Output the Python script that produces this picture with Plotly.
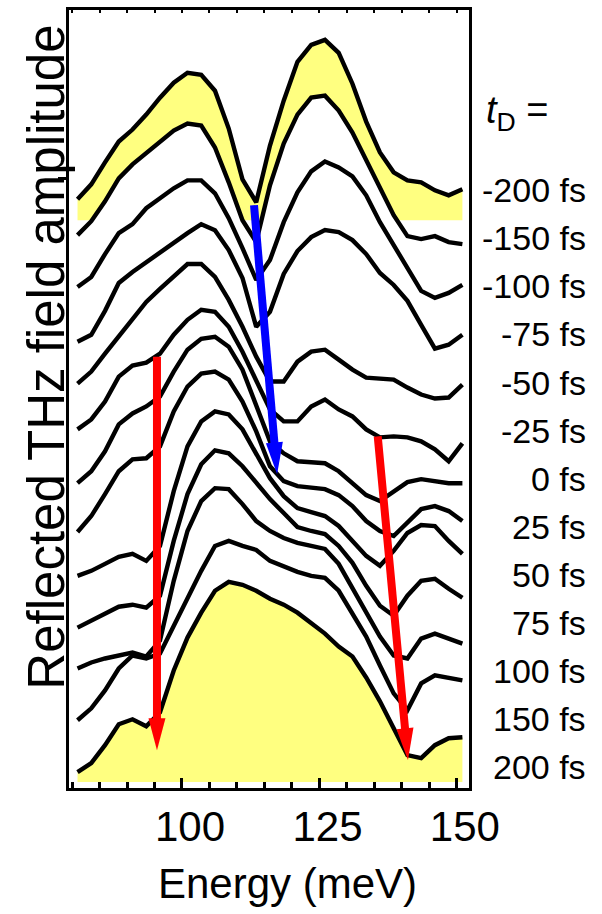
import plotly.graph_objects as go

# Photon energy grid (meV)
energies = [81.0, 83.5, 86.0, 88.5, 91.0, 93.5, 96.0, 98.5, 101.0, 103.5,
            106.0, 108.5, 111.0, 113.5, 116.0, 118.5, 121.0, 123.5, 126.0, 128.5,
            131.0, 133.5, 136.0, 138.5, 141.0, 143.5, 146.0, 148.5, 151.0]

# Pump-probe delays, top trace first
delays = ["-200 fs", "-150 fs", "-100 fs", "-75 fs", "-50 fs", "-25 fs", "0 fs",
          "25 fs", "50 fs", "75 fs", "100 fs", "150 fs", "200 fs"]

# Reflected THz field amplitude (arb. units) for each delay
amp_m200 = [21, 36, 58, 79, 91, 106, 123, 138, 148, 146, 130, 92, 41, 18, 75, 120, 159, 176, 181, 168, 137, 99, 68, 48, 40, 38, 30, 25, 31]
amp_m150 = [32, 46, 66, 89, 103, 114, 126, 137, 144, 142, 120, 85, 47, 25, 82, 124, 153, 170, 172, 157, 135, 107, 78, 52, 31, 28, 31, 25, 23]
amp_m100 = [27, 37, 60, 81, 90, 106, 116, 126, 134, 134, 121, 96, 66, 34, 54, 92, 122, 143, 153, 147, 138, 119, 92, 69, 48, 23, 16, 21, 29]
amp_m75 = [19, 26, 50, 78, 89, 99, 108, 118, 128, 137, 131, 111, 83, 34, 49, 87, 110, 124, 131, 129, 121, 107, 88, 76, 60, 36, 12, 16, 26]
amp_m50 = [24, 36, 54, 71, 88, 106, 119, 131, 144, 144, 131, 108, 81, 51, 26, 26, 46, 56, 58, 48, 38, 30, 29, 28, 20, 13, 9, 10, 23]
amp_m25 = [25, 35, 53, 78, 89, 92, 101, 120, 135, 145, 143, 128, 103, 73, 45, 33, 33, 48, 55, 45, 38, 25, 17, 18, 17, 13, 5, -7, 11]
amp_0 = [18, 30, 50, 77, 88, 95, 105, 130, 152, 163, 165, 155, 132, 95, 60, 48, 40, 39, 38, 30, 18, 6, 0, 10, 19, 22, 20, 18, 18]
amp_25 = [16, 32, 54, 77, 89, 90, 102, 137, 162, 175, 177, 169, 147, 117, 82, 67, 62, 60, 59, 53, 42, 27, 17, 12, 25, 39, 42, 37, 27]
amp_50 = [19, 24, 31, 38, 41, 34, 49, 104, 149, 174, 184, 181, 166, 142, 117, 99, 87, 83, 79, 69, 54, 39, 29, 44, 62, 70, 69, 54, 41]
amp_75 = [14, 21, 29, 35, 37, 34, 46, 101, 148, 178, 192, 189, 176, 159, 143, 129, 115, 111, 108, 96, 79, 56, 36, 26, 46, 61, 63, 53, 44]
amp_100 = [20, 26, 30, 33, 36, 32, 48, 108, 158, 188, 201, 200, 185, 168, 158, 151, 146, 143, 140, 125, 101, 75, 52, 33, 30, 50, 55, 50, 45]
amp_150 = [15, 27, 45, 67, 80, 77, 82, 110, 138, 165, 190, 195, 190, 186, 175, 169, 164, 160, 158, 145, 123, 99, 70, 42, 25, 52, 60, 57, 55]
amp_200 = [10, 19, 37, 58, 63, 56, 70, 112, 145, 170, 192, 201, 198, 192, 184, 178, 170, 159, 149, 136, 126, 105, 81, 54, 27, 24, 37, 44, 45]

spectra = [amp_m200, amp_m150, amp_m100, amp_m75, amp_m50, amp_m25, amp_0,
           amp_25, amp_50, amp_75, amp_100, amp_150, amp_200]

OFFSET_STEP = 47          # vertical spacing between stacked traces
X_RANGE = [79.45, 152.2]
Y_RANGE = [-6, 775]
YELLOW = "#ffff80"
FONT = "Liberation Sans, Arial, sans-serif"

# figure geometry
W, H = 602, 914
M_L, M_R, M_T, M_B = 69, 133, 7, 126
PW, PH = W - M_L - M_R, H - M_T - M_B
px_per_x = PW / (X_RANGE[1] - X_RANGE[0])
px_per_y = PH / (Y_RANGE[1] - Y_RANGE[0])

fig = go.Figure()
n = len(spectra)
for i, amp in enumerate(spectra):
    base = (n - 1 - i) * OFFSET_STEP
    ys = [base + a for a in amp]
    fill = YELLOW if i in (0, n - 1) else "white"
    # area between trace and its own baseline (hides lower-lying parts)
    fig.add_trace(go.Scatter(
        x=energies + energies[::-1],
        y=ys + [base] * len(energies),
        mode="lines", fill="toself", fillcolor=fill,
        line=dict(width=0, color=fill), hoverinfo="skip"))
    fig.add_trace(go.Scatter(
        x=energies, y=ys, mode="lines",
        line=dict(color="black", width=4.4, shape="linear"),
        name=delays[i]))

# invisible trace that activates the top tick axis
fig.add_trace(go.Scatter(x=X_RANGE, y=[None, None], xaxis="x2",
                         mode="lines", showlegend=False, hoverinfo="skip"))

# guide arrows: (E_start, Y_start, E_tip, Y_tip, colour)
arrows = [
    (113.1, 579, 117.3, 309, "#0000ff"),
    (95.45, 427, 95.45, 32, "#ff0000"),
    (135.6, 347, 141.1, 22, "#ff0000"),
]
HEAD_LEN, HEAD_W, SHAFT_W = 32, 17, 8
for e0, y0, e1, y1, col in arrows:
    # work in pixel space for the arrow head geometry
    dx = (e1 - e0) * px_per_x
    dy = (y1 - y0) * px_per_y
    L = (dx ** 2 + dy ** 2) ** 0.5
    ux, uy = dx / L, dy / L
    bx, by = -ux * HEAD_LEN, -uy * HEAD_LEN       # tip -> head base
    nx, ny = -uy * HEAD_W / 2, ux * HEAD_W / 2    # half width
    base_e = e1 + bx / px_per_x
    base_y = y1 + by / px_per_y
    fig.add_shape(type="line", x0=e0, y0=y0, x1=base_e + ux * 2 / px_per_x,
                  y1=base_y + uy * 2 / px_per_y,
                  line=dict(color=col, width=SHAFT_W), layer="above")
    p1 = (base_e + nx / px_per_x, base_y + ny / px_per_y)
    p2 = (base_e - nx / px_per_x, base_y - ny / px_per_y)
    path = f"M {e1},{y1} L {p1[0]},{p1[1]} L {p2[0]},{p2[1]} Z"
    fig.add_shape(type="path", path=path, fillcolor=col,
                  line=dict(color=col, width=0), layer="above")

# delay labels on the right
top_px, bot_px = 188, 767
for i, lab in enumerate(delays):
    ypx = top_px + i * (bot_px - top_px) / (n - 1)
    fig.add_annotation(text=lab, xref="paper", yref="paper",
                       x=(588 - M_L) / PW, y=(H - M_B - ypx) / PH,
                       xanchor="right", yanchor="middle", showarrow=False,
                       font=dict(family=FONT, size=34, color="black"))

fig.add_annotation(text="<i>t</i><sub>D</sub> =", xref="paper", yref="paper",
                   x=(484 - M_L) / PW, y=(H - M_B - 110) / PH,
                   xanchor="left", yanchor="middle", showarrow=False,
                   font=dict(family=FONT, size=38, color="black"))

# axis titles
fig.add_annotation(text="Reflected THz field amplitude", xref="paper", yref="paper",
                   x=(47 - M_L) / PW, y=(H - M_B - 356) / PH, textangle=-90,
                   xanchor="center", yanchor="middle", showarrow=False,
                   font=dict(family=FONT, size=51, color="black"))
fig.add_annotation(text="Energy (meV)", xref="paper", yref="paper",
                   x=(287 - M_L) / PW, y=(H - M_B - 884) / PH,
                   xanchor="center", yanchor="middle", showarrow=False,
                   font=dict(family=FONT, size=42, color="black"))

fig.update_layout(
    width=W, height=H,
    margin=dict(l=M_L, r=M_R, t=M_T, b=M_B),
    paper_bgcolor="white", plot_bgcolor="white",
    showlegend=False,
    xaxis=dict(range=X_RANGE, showgrid=False, zeroline=False,
               showline=True, linecolor="black", linewidth=3, mirror=True,
               ticks="inside", ticklen=10, tickwidth=2.5, tickcolor="black",
               tickmode="linear", tick0=100, dtick=25,
               minor=dict(ticks="inside", ticklen=6, tickwidth=2.5,
                          tickcolor="black", dtick=5),
               tickfont=dict(family=FONT, size=42, color="black"),
               ticklabelstandoff=0, ticklabelshift=8),
    # short tick marks along the top frame
    xaxis2=dict(range=X_RANGE, overlaying="x", side="top", anchor="y",
                showgrid=False, zeroline=False, showline=False,
                ticks="inside", ticklen=3, tickwidth=2, tickcolor="black",
                tickmode="linear", tick0=80, dtick=5, showticklabels=False),
    yaxis=dict(range=Y_RANGE, showgrid=False, zeroline=False,
               showline=True, linecolor="black", linewidth=3, mirror=True,
               tickmode="array", tickvals=[606], ticks="outside",
               ticklen=8, tickwidth=2.5, tickcolor="black",
               showticklabels=False),
)

fig.write_html("out.html")
